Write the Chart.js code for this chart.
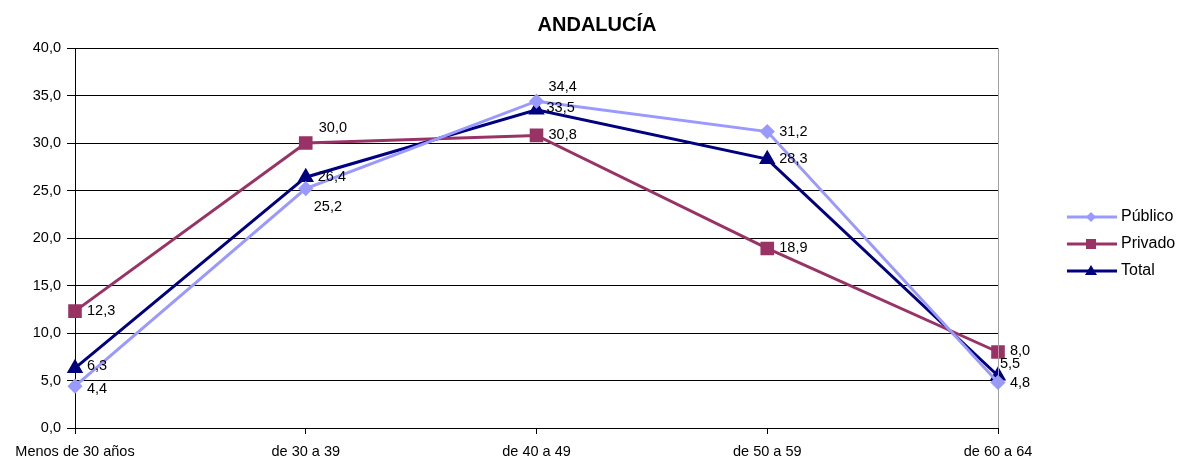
<!DOCTYPE html>
<html><head><meta charset="utf-8">
<script src="https://cdn.jsdelivr.net/npm/chart.js@4/dist/chart.umd.min.js"></script>
<style>html,body{margin:0;padding:0;background:#fff}</style>
</head><body>
<canvas id="c" width="1184" height="461"></canvas>
<script>
const categories = ['Menos de 30 años', 'de 30 a 39', 'de 40 a 49', 'de 50 a 59', 'de 60 a 64'];
const publico = [4.4, 25.2, 34.4, 31.2, 4.8];
const privado = [12.3, 30.0, 30.8, 18.9, 8.0];
const total = [6.3, 26.4, 33.5, 28.3, 5.5];
const yTicks = [0, 5, 10, 15, 20, 25, 30, 35, 40];

const FONT = '"Liberation Sans", Arial, sans-serif';
const fmt = v => v.toFixed(1).replace('.', ',');

// label offsets (styling only)
const labelOffsets = [
  [[12, 3], [8, 18], [12, -14], [12, 0], [12, 1]],
  [[12, 0], [13, -15], [12, 0], [12, 0], [12, -1]],
  [[12, -2], [12, 0], [10, -2], [12, 0], [2, -12]]
];

const extras = {
  id: 'extras',
  afterDatasetsDraw(chart) {
    const ctx = chart.ctx;
    const a = chart.chartArea;
    ctx.save();
    ctx.strokeStyle = '#a0a0a0';
    ctx.lineWidth = 1;
    ctx.beginPath();
    ctx.moveTo(Math.round(a.right) + 0.5, a.top);
    ctx.lineTo(Math.round(a.right) + 0.5, a.bottom);
    ctx.stroke();
    ctx.font = '14.5px ' + FONT;
    ctx.fillStyle = '#000';
    ctx.textAlign = 'left';
    ctx.textBaseline = 'middle';
    chart.data.datasets.forEach((ds, di) => {
      const meta = chart.getDatasetMeta(di);
      meta.data.forEach((pt, i) => {
        const o = labelOffsets[di][i];
        ctx.fillText(fmt(ds.data[i]), pt.x + o[0], pt.y + o[1]);
      });
    });
    ctx.font = 'bold 20px ' + FONT;
    ctx.textAlign = 'center';
    ctx.fillText('ANDALUCÍA', 597, 25);
    const items = chart.data.datasets;
    items.forEach((ds, i) => {
      const y = 217 + i * 27;
      ctx.strokeStyle = ds.borderColor;
      ctx.lineWidth = 3;
      ctx.beginPath();
      ctx.moveTo(1067, y);
      ctx.lineTo(1117, y);
      ctx.stroke();
      ctx.fillStyle = ds.borderColor;
      const x = 1091;
      ctx.beginPath();
      if (ds.pointStyle === 'rectRot') {
        ctx.moveTo(x, y - 5); ctx.lineTo(x + 5, y); ctx.lineTo(x, y + 5); ctx.lineTo(x - 5, y);
      } else if (ds.pointStyle === 'rect') {
        ctx.rect(x - 5, y - 5, 10, 10);
      } else {
        ctx.moveTo(x, y - 6); ctx.lineTo(x + 6, y + 4); ctx.lineTo(x - 6, y + 4);
      }
      ctx.closePath();
      ctx.fill();
      ctx.fillStyle = '#000';
      ctx.font = '16px ' + FONT;
      ctx.textAlign = 'left';
      ctx.fillText(ds.label, 1121, y);
    });
    ctx.restore();
  }
};

new Chart(document.getElementById('c'), {
  type: 'line',
  data: {
    labels: categories,
    datasets: [
      { label: 'Público', data: publico, borderColor: '#9999FF', backgroundColor: '#9999FF',
        borderWidth: 3, pointStyle: 'rectRot', pointRadius: 5.5, pointHoverRadius: 5.5, tension: 0 },
      { label: 'Privado', data: privado, borderColor: '#993366', backgroundColor: '#993366',
        borderWidth: 3, pointStyle: 'rect', pointRadius: 7.5, pointHoverRadius: 7.5, tension: 0 },
      { label: 'Total', data: total, borderColor: '#000080', backgroundColor: '#000080',
        borderWidth: 3, pointStyle: 'triangle', pointRadius: 6.5, pointHoverRadius: 6.5, tension: 0 }
    ]
  },
  options: {
    responsive: false,
    animation: false,
    events: [],
    layout: { padding: { top: 48, right: 186, left: 0, bottom: 0 } },
    plugins: { legend: { display: false }, title: { display: false }, tooltip: { enabled: false } },
    scales: {
      x: {
        type: 'category',
        offset: false,
        grid: { drawOnChartArea: false, drawTicks: true, tickLength: 6, color: '#000' },
        border: { display: true, color: '#000', width: 1 },
        ticks: { color: '#000', font: { family: FONT, size: 14.5 }, padding: 9, maxRotation: 0, autoSkip: false },
        afterFit: s => { s.height = 33; }
      },
      y: {
        min: 0, max: 40,
        afterBuildTicks: s => { s.ticks = yTicks.map(v => ({ value: v })); },
        grid: { color: '#000', lineWidth: 1, drawTicks: true, tickLength: 8 },
        border: { display: true, color: '#000', width: 1 },
        ticks: { color: '#000', font: { family: FONT, size: 14.5 }, padding: 6, callback: v => fmt(v) },
        afterFit: s => { s.width = 75; }
      }
    }
  },
  plugins: [extras]
});
</script>
</body></html>
